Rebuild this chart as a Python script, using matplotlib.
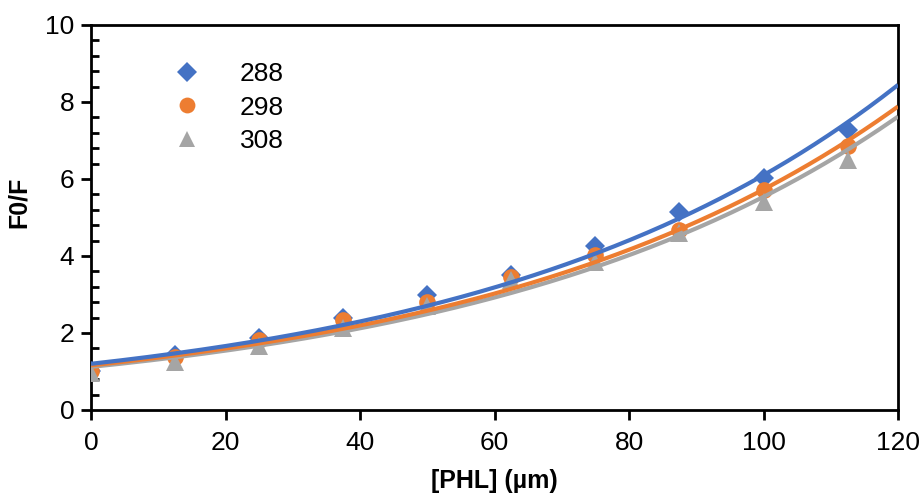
import numpy as np
import matplotlib
matplotlib.use("Agg")
import matplotlib.pyplot as plt
from matplotlib.ticker import MultipleLocator

plt.rcParams['font.family'] = ['Liberation Sans', 'DejaVu Sans']

phl = [0, 12.5, 25, 37.5, 50, 62.5, 75, 87.5, 100, 112.5]
temps = ["288", "298", "308"]
f0f_288 = [1.00, 1.44, 1.87, 2.39, 2.99, 3.51, 4.26, 5.15, 6.03, 7.27]
f0f_298 = [1.00, 1.38, 1.82, 2.34, 2.81, 3.46, 4.03, 4.68, 5.71, 6.86]
f0f_308 = [0.96, 1.25, 1.66, 2.13, 2.70, 3.38, 3.85, 4.60, 5.41, 6.49]

# exponential trend lines  y = a * exp(k * x)
trend_a = [1.20, 1.16, 1.12]
trend_k = [0.01626, 0.01597, 0.01598]

colors = ["#4472C4", "#ED7D31", "#A5A5A5"]
markers = ["D", "o", "^"]
msizes = [10.5, 12, 12.5]

fig = plt.figure(figsize=(9.22, 4.96), dpi=100)
ax = fig.add_axes([0.0987, 0.1734, 0.8753, 0.7762])

series = [f0f_288, f0f_298, f0f_308]
xs = np.linspace(0, 120, 300)
for i, (lab, ys) in enumerate(zip(temps, series)):
    ax.plot(phl, ys, linestyle="none", marker=markers[i], ms=msizes[i],
            color=colors[i], markeredgewidth=0, label=lab, zorder=3 + i * 0.1)
    ax.plot(xs, trend_a[i] * np.exp(trend_k[i] * xs), color=colors[i], lw=3,
            zorder=5 - i * 0.1, solid_capstyle="butt")

ax.set_xlim(0, 120)
ax.set_ylim(0, 10)
ax.xaxis.set_major_locator(MultipleLocator(20))
ax.yaxis.set_major_locator(MultipleLocator(2))
ax.yaxis.set_minor_locator(MultipleLocator(0.4))

for s in ax.spines.values():
    s.set_linewidth(2)
    s.set_color("black")

ax.tick_params(axis="both", which="major", direction="out", length=7, width=2,
               labelsize=19, colors="black")
ax.tick_params(axis="y", which="minor", direction="in", length=6, width=2)
ax.tick_params(axis="x", which="major", pad=8)
ax.tick_params(axis="y", which="major", pad=5)

ax.set_xlabel("[PHL] (µm)", fontsize=18, fontweight="bold")
ax.xaxis.set_label_coords(0.5, -0.152)
ax.set_ylabel("F0/F", fontsize=18, fontweight="bold")
ax.yaxis.set_label_coords(-0.074, 0.54)

leg = ax.legend(loc="upper left", bbox_to_anchor=(0.073, 0.965), frameon=False,
                fontsize=19, handletextpad=1.5, labelspacing=0.36,
                markerscale=0.95, handlelength=1.0)

fig.savefig("out.png", dpi=100)
